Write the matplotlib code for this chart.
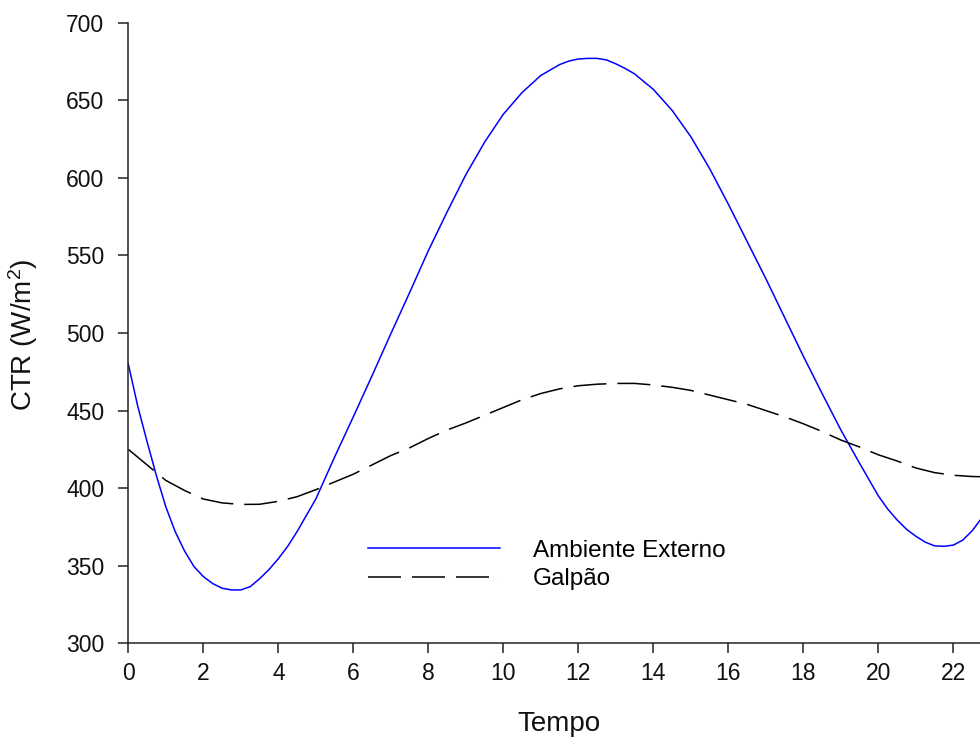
import matplotlib
matplotlib.use("Agg")
import matplotlib.pyplot as plt

plt.rcParams['font.family'] = ['Liberation Sans', 'DejaVu Sans']
plt.rcParams['mathtext.default'] = 'regular'
plt.rcParams['lines.scale_dashes'] = False

# Ambiente Externo: tempo (h) and CTR (W/m2)
tempo_ext = [0.0, 0.25, 0.5, 0.75, 1.0, 1.25, 1.5, 1.75, 2.0, 2.25, 2.5, 2.75,
             3.0, 3.25, 3.5, 3.75, 4.0, 4.25, 4.5, 5.0, 5.5, 6.0, 6.5, 7.0,
             7.5, 8.0, 8.5, 9.0, 9.5, 10.0, 10.5, 11.0, 11.25, 11.5, 11.75,
             12.0, 12.25, 12.5, 12.75, 13.0, 13.25, 13.5, 14.0, 14.5, 15.0,
             15.5, 16.0, 16.5, 17.0, 17.5, 18.0, 18.5, 19.0, 19.5, 20.0,
             20.25, 20.5, 20.75, 21.0, 21.25, 21.5, 21.75, 22.0, 22.25, 22.5,
             22.75, 23.0]
ambiente_externo = [480, 453, 430, 408, 388, 372, 359.5, 349.5, 343, 338.5,
                    335.5, 334.4, 334.4, 336.5, 341.6, 347.5, 354.5, 362.5,
                    372, 393, 420, 446, 472.5, 499.5, 526, 553, 578, 602,
                    623, 641, 655, 666, 669.5, 673, 675.3, 676.6, 677, 677,
                    676, 673.5, 670.5, 667, 657, 643.5, 626.5, 606, 583, 559,
                    535, 510, 485, 461, 437.5, 416, 395, 386.5, 379.5, 373.5,
                    369, 365.2, 362.8, 362.5, 363.3, 366.5, 372.5, 380.5, 389]

# Galpão: tempo (h) and CTR (W/m2)
tempo_gal = [0.0, 0.5, 1.0, 1.5, 2.0, 2.5, 3.0, 3.5, 4.0, 4.5, 5.0, 5.5, 6.0,
             6.5, 7.0, 7.5, 8.0, 8.5, 9.0, 9.5, 10.0, 10.5, 11.0, 11.5, 12.0,
             12.5, 13.0, 13.5, 14.0, 14.5, 15.0, 15.5, 16.0, 16.5, 17.0, 17.5,
             18.0, 18.5, 19.0, 19.5, 20.0, 20.5, 21.0, 21.5, 22.0, 22.5, 23.0]
galpao = [425, 415, 405, 398.5, 393, 390.5, 389.5, 389.6, 391.5, 394.5, 399,
          404, 409, 415, 421, 426, 432, 437.5, 442, 447, 452, 457, 461, 464,
          466, 467, 467.5, 467.5, 466.5, 465, 463, 460, 457, 454, 450, 446,
          441.5, 436.5, 431, 426.5, 421.5, 417.5, 413, 410, 408.3, 407.5,
          407.2]

x_ticks = [0, 2, 4, 6, 8, 10, 12, 14, 16, 18, 20, 22]
y_ticks = [300, 350, 400, 450, 500, 550, 600, 650, 700]

W, H = 980, 744
fig = plt.figure(figsize=(W / 100, H / 100), dpi=100)
left_px, bottom_px, top_px = 128.3, 643.3, 22.7
ax = fig.add_axes([left_px / W, 1 - bottom_px / H, (W - left_px) / W,
                   (bottom_px - top_px) / H])

dash = (33 / 1.389, 11 / 1.389)
l1, = ax.plot(tempo_ext, ambiente_externo, color='#0000FF', lw=1.1,
              label='Ambiente Externo')
l2, = ax.plot(tempo_gal, galpao, color='black', lw=1.1, dashes=dash,
              label='Galpão')

ax.set_xlim(0, 22.71)
ax.set_ylim(300, 700)
ax.set_xticks(x_ticks)
ax.set_yticks(y_ticks)

spine_col = '#222222'
for s in ['top', 'right']:
    ax.spines[s].set_visible(False)
for s in ['left', 'bottom']:
    ax.spines[s].set_linewidth(1.1)
    ax.spines[s].set_color(spine_col)

ax.tick_params(axis='both', direction='out', length=7.2, width=1.1,
               color=spine_col, labelsize=16.5, labelcolor='#111111')
ax.tick_params(axis='x', pad=6.5)
ax.tick_params(axis='y', pad=10)

ax.set_xlabel('Tempo', fontsize=20, color='#111111')
ax.set_ylabel('CTR (W/m$^{2}$)', fontsize=20, color='#111111')
ax.xaxis.set_label_coords(0.5057, -0.1097)
ax.yaxis.set_label_coords(-0.104, 0.497)

ax.legend(handles=[l1, l2], loc='upper left',
          bbox_to_anchor=(368 / W, 1 - 539.8 / H),
          bbox_transform=fig.transFigure, frameon=False, borderpad=0,
          borderaxespad=0, handlelength=5.43, handletextpad=1.36,
          labelspacing=0.27, fontsize=17.5)

fig.savefig('out.png', dpi=100)
